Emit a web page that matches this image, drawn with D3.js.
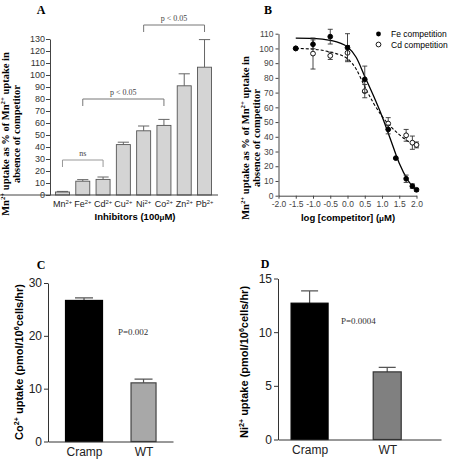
<!DOCTYPE html>
<html><head><meta charset="utf-8">
<script src="https://cdn.jsdelivr.net/npm/d3@7"></script>
<style>
html,body{margin:0;padding:0;background:#fff;}
svg{display:block;}
</style></head>
<body>
<svg id="chart" width="449" height="461"></svg>
<script>
// ---------- DATA ----------
// Panel A
const catsA = ["Mn", "Fe", "Cd", "Cu", "Ni", "Co", "Zn", "Pb"];
const valsA = [2.5, 11.5, 13, 42, 53.5, 58, 91, 106.5];
const errA  = [0.5, 1.3, 2, 2, 4, 5, 10, 23];
const ticksA = [0,10,20,30,40,50,60,70,80,90,100,110,120,130];

// Panel B (log10 competitor concentration)
const feX   = [-1.5, -1.0, -0.5, 0.0, 0.5, 1.18, 1.4, 1.7, 1.88, 2.0];
const feY   = [100, 102.8, 108, 100.5, 79, 45, 25.5, 11.5, 6.5, 4];
const feErr = [0, 3, 5, 9.5, 9, 3, 0.5, 2.5, 1.5, 1];
const cdX   = [-1.5, -1.0, -0.5, 0.0, 0.5, 1.18, 1.7, 1.88, 2.0];
const cdY   = [100, 96.5, 95, 97, 71, 49, 41, 36, 34.5];
const cdErr = [0, 10.5, 2.5, 5, 4.5, 4, 4, 4.5, 2];
// fitted curves, values
const curveX   = [-1.5, -1.0, -0.5, 0.0, 0.25, 0.5, 0.75, 1.0, 1.25, 1.5, 1.75, 2.0];
const feCurveY = [107, 106.8, 105.5, 101, 94, 81, 68, 54, 38, 22, 10.5, 3.5];
const cdCurveY = [100, 99.5, 97.5, 93, 86, 74, 63, 54, 47, 41.5, 37, 34];
const ticksBx = [-2.0,-1.5,-1.0,-0.5,0.0,0.5,1.0,1.5,2.0];
const ticksBy = [0,10,20,30,40,50,60,70,80,90,100,110];

// Panels C and D
const groups = ["Cramp", "WT"];
const coVals = [26.7, 11.1];
const coErr  = [0.5, 0.7];
const niVals = [12.7, 6.3];
const niErr  = [1.15, 0.42];
const ticksC = [0, 10, 20, 30];
const ticksD = [0, 5, 10, 15];

// ---------- HELPERS ----------
const svg = d3.select("#chart");
const SANS = "'Liberation Sans', Arial, sans-serif";
const SERIF = "'Liberation Serif', 'Times New Roman', serif";

function rich(textSel, str, fs) {
  const re = /\^\{([^}]*)\}/g;
  let last = 0, m; const segs = [];
  while ((m = re.exec(str))) {
    if (m.index > last) segs.push({t: str.slice(last, m.index), sup: false});
    segs.push({t: m[1], sup: true});
    last = re.lastIndex;
  }
  if (last < str.length) segs.push({t: str.slice(last), sup: false});
  let up = false;
  segs.forEach(s => {
    const ts = textSel.append("tspan").text(s.t);
    if (s.sup) {
      ts.attr("font-size", fs * 0.65);
      if (!up) { ts.attr("dy", -fs * 0.38); up = true; }
    } else if (up) { ts.attr("dy", fs * 0.38); up = false; }
  });
  return textSel;
}
function styleAxis(g, col, fs, family, tcol) {
  g.selectAll("path,line").attr("stroke", col).attr("stroke-width", 1);
  g.selectAll("text").attr("font-size", fs).attr("font-family", family).attr("fill", tcol);
}
function label(x, y, t) {
  svg.append("text").attr("x", x).attr("y", y).attr("text-anchor", "middle")
    .attr("font-family", SERIF).attr("font-weight", "bold").attr("font-size", 12).text(t);
}

// ---------- PANEL A ----------
{
  const x = d3.scaleBand().domain(catsA).range([50, 217]).paddingInner(0.31).paddingOuter(0.27);
  const y = d3.scaleLinear().domain([0, 130]).range([195, 39]);
  const g = svg.append("g");
  const data = catsA.map((c, i) => ({c, v: valsA[i], e: errA[i]}));
  g.selectAll(".eb").data(data).join("line")
    .attr("x1", d => x(d.c) + x.bandwidth()/2).attr("x2", d => x(d.c) + x.bandwidth()/2)
    .attr("y1", d => y(d.v)).attr("y2", d => y(d.v + d.e)).attr("stroke", "#666").attr("stroke-width", 1);
  g.selectAll(".ec").data(data).join("line")
    .attr("x1", d => x(d.c) + x.bandwidth()*0.1).attr("x2", d => x(d.c) + x.bandwidth()*0.9)
    .attr("y1", d => y(d.v + d.e)).attr("y2", d => y(d.v + d.e)).attr("stroke", "#666").attr("stroke-width", 1);
  g.selectAll(".bar").data(data).join("rect")
    .attr("x", d => x(d.c)).attr("width", x.bandwidth())
    .attr("y", d => y(d.v)).attr("height", d => y(0) - y(d.v))
    .attr("fill", "#d4d4d4").attr("stroke", "#555").attr("stroke-width", 0.9);
  const ay = g.append("g").attr("transform", "translate(50,0)")
    .call(d3.axisLeft(y).tickValues(ticksA).tickSize(4).tickPadding(1).tickSizeOuter(0));
  styleAxis(ay, "#444", 9, SANS, "#333");
  const ax = g.append("g").attr("transform", "translate(0,195)")
    .call(d3.axisBottom(x).tickSize(0).tickPadding(6).tickSizeOuter(0));
  ax.select(".domain").attr("d", "M0,0H218");
  styleAxis(ax, "#444", 9, SANS, "#222");
  ax.selectAll(".tick text").each(function(d) {
    const t = d3.select(this); t.text(null); rich(t, d + "^{2+}", 9);
  });
  const tA = g.append("text").attr("transform", "translate(9,134) rotate(-90)")
    .attr("text-anchor", "middle").attr("font-family", SERIF).attr("font-weight", "bold").attr("font-size", 10.5);
  rich(tA, "Mn^{2+} uptake as % of Mn^{2+} uptake in", 10.5);
  g.append("text").attr("transform", "translate(20,134) rotate(-90)")
    .attr("text-anchor", "middle").attr("font-family", SERIF).attr("font-weight", "bold").attr("font-size", 10.5)
    .text("absence of competitor");
  const xl = g.append("text").attr("x", 135).attr("y", 220).attr("text-anchor", "middle")
    .attr("font-family", SANS).attr("font-weight", "bold").attr("font-size", 9.5);
  xl.append("tspan").text("Inhibitors (100");
  xl.append("tspan").text("μ").attr("font-size", 8);
  xl.append("tspan").text("M)");
  function bracket(c1, c2, yy, txt, col) {
    const x1 = x(c1) + x.bandwidth()/2, x2 = x(c2) + x.bandwidth()/2;
    g.append("path").attr("d", `M${x1},${yy+7}V${yy}H${x2}V${yy+7}`)
      .attr("fill", "none").attr("stroke", col).attr("stroke-width", 1);
    g.append("text").attr("x", (x1 + x2)/2).attr("y", yy - 4).attr("text-anchor", "middle")
      .attr("font-family", SERIF).attr("font-size", 8).attr("fill", "#444").text(txt);
  }
  bracket("Mn", "Cd", 160, "ns", "#999");
  bracket("Fe", "Co", 99, "p < 0.05", "#777");
  bracket("Ni", "Pb", 25, "p < 0.05", "#777");
  label(41, 14, "A");
}

// ---------- PANEL B ----------
{
  const x = d3.scaleLinear().domain([-2, 2]).range([278.5, 416.5]);
  const y = d3.scaleLinear().domain([0, 110]).range([195.7, 33.7]);
  const g = svg.append("g");
  const ay = g.append("g").attr("transform", "translate(278.5,0)")
    .call(d3.axisLeft(y).tickValues(ticksBy).tickSize(3).tickPadding(2).tickSizeOuter(0));
  styleAxis(ay, "#444", 8.5, SANS, "#444");
  const ax = g.append("g").attr("transform", "translate(0,195.7)")
    .call(d3.axisBottom(x).tickValues(ticksBx).tickFormat(d3.format(".1f")).tickSize(3).tickPadding(2).tickSizeOuter(0));
  styleAxis(ax, "#444", 8.5, SANS, "#444");
  ax.selectAll(".tick text").text(d => d3.format(".1f")(d).replace("−", "-"));

  const line = d3.line().x(d => x(d[0])).y(d => y(d[1])).curve(d3.curveMonotoneX);
  g.append("path").attr("d", line(curveX.map((v, i) => [v, cdCurveY[i]])))
    .attr("fill", "none").attr("stroke", "#000").attr("stroke-width", 1.1).attr("stroke-dasharray", "3,2");
  g.append("path").attr("d", line(curveX.map((v, i) => [v, feCurveY[i]])))
    .attr("fill", "none").attr("stroke", "#000").attr("stroke-width", 1.3);

  function series(xs, ys, es, filled) {
    const d = xs.map((v, i) => ({x: v, y: ys[i], e: es[i]})).filter(p => p.e > 0);
    g.selectAll(null).data(d).join("path")
      .attr("d", p => `M${x(p.x)},${y(p.y - p.e)}V${y(p.y + p.e)}M${x(p.x)-2.5},${y(p.y + p.e)}h5M${x(p.x)-2.5},${y(p.y - p.e)}h5`)
      .attr("stroke", "#333").attr("stroke-width", 0.9).attr("fill", "none");
    g.selectAll(null).data(xs.map((v, i) => ({x: v, y: ys[i]}))).join("circle")
      .attr("cx", p => x(p.x)).attr("cy", p => y(p.y)).attr("r", 2.4)
      .attr("fill", filled ? "#000" : "#fff").attr("stroke", "#000").attr("stroke-width", 0.9);
  }
  series(cdX, cdY, cdErr, false);
  series(feX, feY, feErr, true);

  g.append("circle").attr("cx", 378.5).attr("cy", 34).attr("r", 2.4).attr("fill", "#000");
  g.append("text").attr("x", 391).attr("y", 37.2).attr("font-family", SANS).attr("font-size", 8.5).text("Fe competition");
  g.append("circle").attr("cx", 378.5).attr("cy", 44.5).attr("r", 2.4).attr("fill", "#fff").attr("stroke", "#000").attr("stroke-width", 0.9);
  g.append("text").attr("x", 391).attr("y", 47.7).attr("font-family", SANS).attr("font-size", 8.5).text("Cd competition");

  const tB = g.append("text").attr("transform", "translate(249,138) rotate(-90)")
    .attr("text-anchor", "middle").attr("font-family", SERIF).attr("font-weight", "bold").attr("font-size", 10.5);
  rich(tB, "Mn^{2+} uptake as % of Mn^{2+} uptake in", 10.5);
  g.append("text").attr("transform", "translate(260,138) rotate(-90)")
    .attr("text-anchor", "middle").attr("font-family", SERIF).attr("font-weight", "bold").attr("font-size", 10.5)
    .text("absence of competitor");
  const xl = g.append("text").attr("x", 348).attr("y", 221).attr("text-anchor", "middle")
    .attr("font-family", SANS).attr("font-weight", "bold").attr("font-size", 9.5);
  xl.append("tspan").text("log [competitor] (");
  xl.append("tspan").text("μ").attr("font-size", 8);
  xl.append("tspan").text("M)");
  label(268, 14, "B");
}

// ---------- PANELS C & D ----------
function barPanel(opts) {
  const g = svg.append("g");
  const x = d3.scalePoint().domain(groups).range([opts.x0, opts.x1]).padding(opts.pad).align(opts.align);
  const y = d3.scaleLinear().domain(opts.domain).range([opts.y0, opts.y1]);
  const data = groups.map((c, i) => ({c, v: opts.vals[i], e: opts.errs[i], w: opts.widths[i], f: opts.fills[i], s: opts.strokes[i]}));
  g.selectAll(null).data(data).join("path")
    .attr("d", d => `M${x(d.c)},${y(d.v)}V${y(d.v + d.e)}M${x(d.c) - opts.cap},${y(d.v + d.e)}h${opts.cap*2}`)
    .attr("stroke", opts.errCol).attr("stroke-width", 1.2).attr("fill", "none");
  g.selectAll(null).data(data).join("rect")
    .attr("x", d => x(d.c) - d.w/2).attr("width", d => d.w)
    .attr("y", d => y(d.v)).attr("height", d => y(0) - y(d.v))
    .attr("fill", d => d.f).attr("stroke", d => d.s).attr("stroke-width", 1.2);
  const ay = g.append("g").attr("transform", `translate(${opts.x0},0)`)
    .call(d3.axisLeft(y).tickValues(opts.ticks).tickSize(4).tickPadding(2).tickSizeOuter(0));
  styleAxis(ay, "#333", 12, SANS, "#222");
  const ax = g.append("g").attr("transform", `translate(0,${opts.y0})`)
    .call(d3.axisBottom(x).tickSize(0).tickPadding(6).tickSizeOuter(0));
  styleAxis(ax, "#333", 12, SANS, "#222");
  const t = g.append("text").attr("transform", `translate(${opts.tx},${opts.ty}) rotate(-90)`)
    .attr("text-anchor", "middle").attr("font-family", SANS).attr("font-weight", "bold").attr("font-size", 11);
  rich(t, opts.title, 11);
  g.append("text").attr("x", opts.px).attr("y", opts.py).attr("font-family", SERIF).attr("font-size", 9)
    .attr("fill", "#333").text(opts.ptxt);
  label(opts.lx, opts.ly, opts.letter);
}
barPanel({x0: 48, x1: 173, pad: 0.55, align: 0.55, domain: [0, 30], y0: 441.5, y1: 283,
  vals: coVals, errs: coErr, widths: [37, 25], fills: ["#000", "#a8a8a8"], strokes: ["#000", "#444"],
  cap: 9, errCol: "#555", ticks: ticksC, title: "Co^{2+} uptake (pmol/10^{6}cells/hr)", tx: 23, ty: 362,
  px: 118, py: 335, ptxt: "P=0.002", lx: 41, ly: 269, letter: "C"});
barPanel({x0: 278, x1: 441, pad: 0.55, align: 0.37, domain: [0, 15], y0: 439.5, y1: 278.5,
  vals: niVals, errs: niErr, widths: [37, 28], fills: ["#000", "#808080"], strokes: ["#000", "#333"],
  cap: 8.5, errCol: "#555", ticks: ticksD, title: "Ni^{2+} uptake (pmol/10^{6}cells/hr)", tx: 248, ty: 362,
  px: 341, py: 324, ptxt: "P=0.0004", lx: 265, ly: 268, letter: "D"});
</script>
</body></html>
